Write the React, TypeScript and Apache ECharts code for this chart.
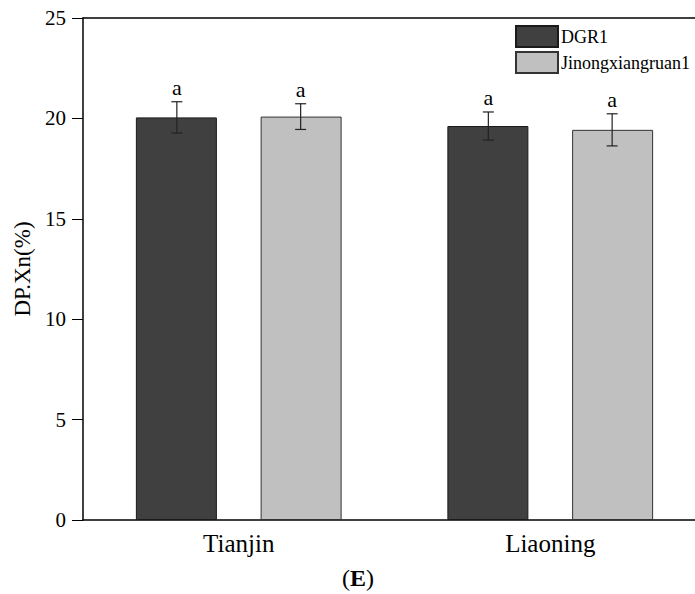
import React, { useEffect, useRef } from "react";
import * as echarts from "echarts";

const categories = ["Tianjin", "Liaoning"];
const seriesNames = ["DGR1", "Jinongxiangruan1"];
const dgr1Values = [20.05, 19.62];
const dgr1Errors = [0.78, 0.7];
const jinValues = [20.09, 19.43];
const jinErrors = [0.64, 0.8];
const letters = [["a", "a"], ["a", "a"]];
const yTicks = [0, 5, 10, 15, 20, 25];

const FONT = "Liberation Serif";

export default function App() {
  const ref = useRef<HTMLDivElement>(null);
  useEffect(() => {
    document.body.style.margin = "0";
    document.body.style.overflow = "hidden";
    const chart = echarts.init(ref.current!, null, { renderer: "svg" });
    const offsetFrac = 62 / 312;
    const makeErr = (vals: number[], errs: number[], lets: string[], sign: number) => ({
      type: "custom",
      z: 5,
      data: vals.map((v, i) => [i, v, errs[i]]),
      renderItem: (params: any, api: any) => {
        const i = api.value(0);
        const v = api.value(1);
        const e = api.value(2);
        const band = api.size([1, 0])[0];
        const c = api.coord([i, v]);
        const x = c[0] + sign * band * offsetFrac;
        const top = api.coord([i, v + e])[1];
        const bot = api.coord([i, v - e])[1];
        const cap = 5.5;
        const st = { stroke: "#222", lineWidth: 1.2 };
        return {
          type: "group",
          children: [
            { type: "line", shape: { x1: x, y1: top, x2: x, y2: bot }, style: st },
            { type: "line", shape: { x1: x - cap, y1: top, x2: x + cap, y2: top }, style: st },
            { type: "line", shape: { x1: x - cap, y1: bot, x2: x + cap, y2: bot }, style: st },
            {
              type: "text",
              x: x,
              y: top - 3,
              style: {
                text: lets[i],
                fill: "#000",
                fontFamily: FONT,
                fontSize: 22,
                align: "center",
                verticalAlign: "bottom",
              },
            },
          ],
        };
      },
    });
    chart.setOption({
      animation: false,
      backgroundColor: "#fff",
      textStyle: { fontFamily: FONT },
      grid: { left: 83, top: 18, right: 6, bottom: 74 },
      legend: {
        data: seriesNames,
        orient: "vertical",
        left: 515,
        top: 25,
        padding: 0,
        icon: "rect",
        itemWidth: 42,
        itemHeight: 21,
        itemGap: 3,
        textStyle: { fontFamily: FONT, fontSize: 18, color: "#000", padding: [0, 0, 0, -2] },
      },
      xAxis: [
        {
          type: "category",
          data: categories,
          axisLine: { lineStyle: { color: "#000", width: 1.5 } },
          axisTick: { show: false },
          axisLabel: { color: "#000", fontFamily: FONT, fontSize: 25, margin: 11 },
        },
        {
          type: "category",
          data: categories,
          position: "top",
          axisLine: { lineStyle: { color: "#000", width: 1.5 } },
          axisTick: { show: false },
          axisLabel: { show: false },
        },
      ],
      yAxis: {
        type: "value",
        min: yTicks[0],
        max: yTicks[yTicks.length - 1],
        interval: 5,
        name: "DP.Xn(%)",
        nameLocation: "middle",
        nameGap: 46,
        nameTextStyle: { color: "#000", fontFamily: FONT, fontSize: 23 },
        axisLine: { show: true, lineStyle: { color: "#000", width: 1.5 } },
        axisTick: { show: true, inside: false, length: 11, lineStyle: { color: "#000" } },
        axisLabel: { color: "#000", fontFamily: FONT, fontSize: 21, margin: 17 },
        splitLine: { show: false },
      },
      graphic: [
        {
          type: "text",
          left: 342,
          top: 566,
          style: {
            text: "({b|E})",
            fontFamily: FONT,
            fontSize: 24,
            fill: "#000",
            rich: { b: { fontWeight: "bold", fontSize: 24, fontFamily: FONT } },
          },
        },
      ],
      series: [
        {
          name: seriesNames[0],
          type: "bar",
          data: dgr1Values,
          barWidth: 81,
          barGap: "54%",
          itemStyle: { color: "#404040", borderColor: "#1a1a1a", borderWidth: 1 },
        },
        {
          name: seriesNames[1],
          type: "bar",
          data: jinValues,
          barWidth: 81,
          barGap: "54%",
          itemStyle: { color: "#c0c0c0", borderColor: "#333", borderWidth: 1 },
        },
        makeErr(dgr1Values, dgr1Errors, letters[0], -1),
        makeErr(jinValues, jinErrors, letters[1], 1),
      ],
    });
    return () => chart.dispose();
  }, []);
  return <div ref={ref} style={{ width: 712, height: 594 }} />;
}
